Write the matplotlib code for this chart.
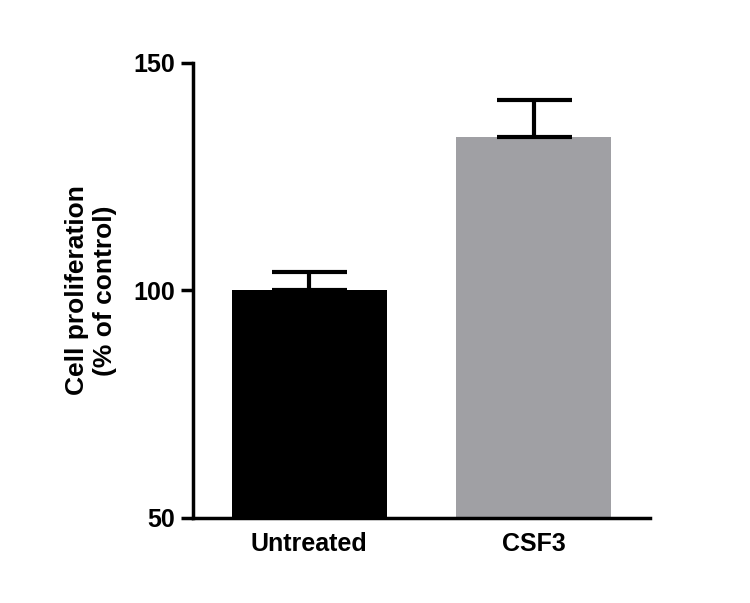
import matplotlib
matplotlib.use("Agg")
import matplotlib.pyplot as plt

groups = ["Untreated", "CSF3"]
means = [100, 133.7]
errs = [4, 8]
colors = ["#000000", "#A0A0A4"]

plt.rcParams['font.family'] = ['Liberation Sans', 'DejaVu Sans']
plt.rcParams['font.weight'] = 'bold'

fig = plt.figure(figsize=(7.5, 6.03), dpi=100)
ax = fig.add_axes([0.257, 0.141, 0.61, 0.755])

x = range(len(groups))
ax.bar(x, [m - 50 for m in means], bottom=50, width=0.69, color=colors)
ax.errorbar(x, means, yerr=[[0, 0], errs], fmt='none', ecolor='black',
            elinewidth=3, capsize=27, capthick=3, zorder=3)

ax.set_xlim(-0.52, 1.52)
ax.set_ylim(50, 150)
ax.set_yticks([50, 100, 150])
ax.set_xticks(list(x))
ax.set_xticklabels(groups)
ax.set_ylabel("Cell proliferation\n(% of control)", fontsize=19, fontweight='bold', labelpad=12)

for s in ['top', 'right']:
    ax.spines[s].set_visible(False)
for s in ['left', 'bottom']:
    ax.spines[s].set_linewidth(2.5)
ax.tick_params(axis='y', width=2.5, length=9, labelsize=18)
ax.tick_params(axis='x', length=0, labelsize=18, pad=10)

fig.savefig("out.png", dpi=100)
